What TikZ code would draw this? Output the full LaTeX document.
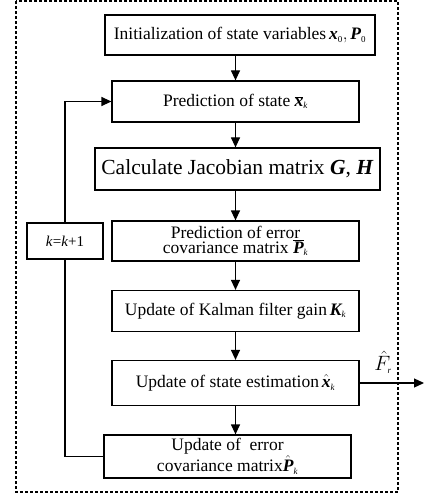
\documentclass[tikz,border=0pt]{standalone}
\usepackage{fontspec}
\setmainfont{Liberation Serif}
\usetikzlibrary{arrows.meta,calc}
\newcommand{\bbi}[1]{\mbox{\bfseries\itshape #1}}
\newcommand{\mysub}[1]{\mbox{\fontsize{9}{9}\selectfont\itshape #1}}
\newcommand{\mysubr}[1]{\mbox{\fontsize{9}{9}\selectfont #1}}
\tikzset{
  x=1pt,y=-1pt,
  stepbox/.style={draw,line width=1.2pt,align=center,inner sep=0pt,
    font=\fontsize{17.5}{13.5}\selectfont},
  flow/.style={line width=1.2pt,-{Triangle[length=10pt,width=9pt]}},
  plain/.style={line width=1.2pt},
}
\begin{document}
\begin{tikzpicture}
\useasboundingbox (0,0) rectangle (424,497);
\draw[line width=1.4pt,dash pattern=on 3pt off 2pt] (16,1) rectangle (398,492);
\node[stepbox,minimum width=270,minimum height=40] (b1) at (240,35)
  {Initialization of state variables\,$\bbi{x}_{\mysubr{0}},\bbi{P}_{\mysubr{0}}$};
\node[stepbox,minimum width=247,minimum height=41] (b2) at (235.5,101.5)
  {Prediction of state $\overline{\bbi{x}}_{\mysub{k}}$};
\node[stepbox,minimum width=285,minimum height=42,font=\fontsize{21.5}{24}\selectfont] (b3) at (237.5,169)
  {Calculate Jacobian matrix \textbf{\textit{G}}, \textbf{\textit{H}}};
\node[stepbox,minimum width=247,minimum height=40] (b4) at (235.5,241)
  {Prediction of error\\covariance matrix $\overline{\bbi{P}}_{\mysub{k}}$};
\node[stepbox,minimum width=247,minimum height=41] (b5) at (235.5,311)
  {Update of Kalman filter gain\,$\bbi{K}_{\mysub{k}}$};
\node[stepbox,minimum width=247,minimum height=45] (b6) at (235.5,383)
  {Update of state estimation\,$\hat{\bbi{x}}_{\mysub{k}}$};
\node[stepbox,minimum width=247,minimum height=43,font=\fontsize{17.5}{16}\selectfont] (b7) at (227.5,456.5)
  {Update of \ error\\covariance matrix$\hat{\bbi{P}}_{\mysub{k}}$};
\node[stepbox,minimum width=76,minimum height=36,font=\fontsize{15}{18}\selectfont] (kb) at (65,241)
  {\textit{k}=\textit{k}+1};
\coordinate (out) at (424,383);
\node[font=\fontsize{20}{22}\selectfont] (fr) at (383,362) {$\hat{F}_{\mysub{r}}$};
\draw[flow] (b2.north |- b1.south) -- (b2.north);
\draw[flow] (b2.south) -- (b2.south |- b3.north);
\draw[flow] (b4.north |- b3.south) -- (b4.north);
\draw[flow] (b4.south) -- (b5.north);
\draw[flow] (b5.south) -- (b6.north);
\draw[flow] (b6.south) -- (b6.south |- b7.north);
\draw[flow] (b6.east) -- (out);
\draw[plain] (b7.west) -| (kb.south);
\draw[flow] (kb.north) |- (b2.west);
\end{tikzpicture}
\end{document}
